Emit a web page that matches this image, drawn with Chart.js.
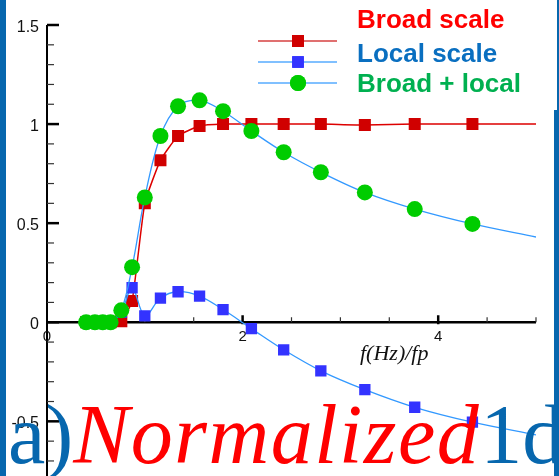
<!DOCTYPE html>
<html>
<head>
<meta charset="utf-8">
<script src="https://cdn.jsdelivr.net/npm/chart.js@4.4.1/dist/chart.umd.min.js"></script>
<style>
  html, body { margin: 0; padding: 0; background: #fff; }
  #wrap { position: relative; width: 559px; height: 476px; overflow: hidden; background: #fff; }
  #chart { position: absolute; left: 0; top: 0; }
  .legend { position: absolute; left: 357px; font: bold 26px "Liberation Sans", Arial, sans-serif; line-height: 26px; white-space: nowrap; }
  .axisTitle { position: absolute; left: 360px; top: 342px; font: italic 22px "Liberation Serif", "Times New Roman", serif; line-height: 22px; color: #111; white-space: nowrap; }
  .bigTitle { position: absolute; left: 8px; top: 393px; font: 84px "Liberation Serif", "Times New Roman", serif; line-height: 84px; white-space: nowrap; color: #0767ae; }
  .bigTitle i { color: #ff0000; letter-spacing: 1.5px; }
  .edge { position: absolute; background: #0767ae; }
</style>
</head>
<body>
<div id="wrap">
  <canvas id="chart" width="559" height="476"></canvas>
  <div class="legend" style="top:6px;color:#ff0000">Broad scale</div>
  <div class="legend" style="top:40px;color:#0a6fc0">Local scale</div>
  <div class="legend" style="top:70px;color:#00b050">Broad + local</div>
  <div class="axisTitle">f(Hz)/fp</div>
  <div class="bigTitle">a)<i>Normalized</i>1d</div>
  <div class="edge" style="left:0;top:0;width:6px;height:476px"></div>
  <div class="edge" style="left:557px;top:0;width:2px;height:110px"></div>
  <div class="edge" style="left:554px;top:110px;width:5px;height:366px"></div>
</div>
<script>
// values; the last entry is where the curves end (no marker)
const freq       = [0.40, 0.49, 0.57, 0.65, 0.76, 0.87, 1.00, 1.16, 1.34, 1.56, 1.80, 2.09, 2.42, 2.80, 3.25, 3.76, 4.35, 5.00]
const broadScale = [0, 0, 0, 0, 0.005, 0.107, 0.60, 0.817, 0.94, 0.99, 1.0, 1.0, 1.0, 1.0, 0.995, 1.0, 1.0, 1.0]
const localScale = [0, 0, 0, 0, 0.05, 0.174, 0.032, 0.122, 0.154, 0.132, 0.064, -0.032, -0.139, -0.245, -0.34, -0.429, -0.504, -0.568]
const broadLocal = [0, 0, 0, 0, 0.06, 0.278, 0.63, 0.94, 1.09, 1.12, 1.065, 0.965, 0.858, 0.757, 0.655, 0.571, 0.496, 0.43]
const markerCount = 17

const xTickLabels = [0, 2, 4]
const yTickLabels = [1.5, 1, 0.5, 0, -0.5]

const toPoints = (ys) => freq.map((f, i) => ({ x: f, y: ys[i] }))
const radii = (r) => freq.map((_, i) => i < markerCount ? r : 0)

// axes with inward ticks, crossing at the origin
const axesPlugin = {
    id: 'axes',
    beforeDatasetsDraw(chart) {
        const { ctx, scales: { x, y } } = chart
        const x0 = x.getPixelForValue(0)
        const y0 = y.getPixelForValue(0)
        ctx.save()
        ctx.strokeStyle = '#000'

        // vertical axis
        ctx.lineWidth = 2
        ctx.beginPath()
        ctx.moveTo(x0, y.getPixelForValue(1.5))
        ctx.lineTo(x0, chart.height)
        ctx.stroke()
        for (let k = -7; k <= 15; k++) {
            const py = y.getPixelForValue(k / 10)
            const major = k % 5 === 0
            ctx.lineWidth = major ? 2.5 : 1.2
            ctx.strokeStyle = major ? '#000' : '#333'
            ctx.beginPath()
            ctx.moveTo(x0, py)
            ctx.lineTo(x0 + (major ? 12 : 7), py)
            ctx.stroke()
        }

        // horizontal axis
        ctx.strokeStyle = '#000'
        ctx.lineWidth = 2.5
        ctx.beginPath()
        ctx.moveTo(x0, y0)
        ctx.lineTo(x.getPixelForValue(5), y0)
        ctx.stroke()
        for (let k = 1; k <= 10; k++) {
            const px = x.getPixelForValue(k / 2)
            const major = k % 4 === 0
            ctx.lineWidth = major ? 2.5 : 1.2
            ctx.strokeStyle = major ? '#000' : '#333'
            ctx.beginPath()
            ctx.moveTo(px, y0 + (major ? 2 : 0))
            ctx.lineTo(px, y0 - (major ? 7 : 5))
            ctx.stroke()
        }

        // tick labels
        ctx.fillStyle = '#111'
        ctx.font = '16px "Liberation Sans", Arial, sans-serif'
        ctx.textAlign = 'right'
        ctx.textBaseline = 'alphabetic'
        yTickLabels.forEach(v => ctx.fillText(String(v), x0 - 8, y.getPixelForValue(v) + 6.5))
        ctx.font = '15px "Liberation Sans", Arial, sans-serif'
        ctx.textAlign = 'center'
        xTickLabels.forEach(v => ctx.fillText(String(v), x.getPixelForValue(v), y0 + 18.5))
        ctx.restore()
    }
}

// legend samples: line with marker in the middle
const legendPlugin = {
    id: 'legendSamples',
    afterDraw(chart) {
        const ctx = chart.ctx
        const rows = [
            { y: 41, line: '#e07070', style: 'rect', radius: 8.5, fill: '#d00000' },
            { y: 62, line: '#80c0ff', style: 'rect', radius: 8.2, fill: '#3333ff' },
            { y: 83, line: '#80c0ff', style: 'circle', radius: 8, fill: '#00cc00' },
        ]
        ctx.save()
        rows.forEach(r => {
            ctx.strokeStyle = r.line
            ctx.lineWidth = 2
            ctx.beginPath()
            ctx.moveTo(258, r.y)
            ctx.lineTo(337, r.y)
            ctx.stroke()
            ctx.fillStyle = r.fill
            Chart.helpers.drawPoint(ctx, { pointStyle: r.style, radius: r.radius, borderWidth: 0, rotation: 0 }, 298, r.y)
            ctx.fill()
        })
        ctx.restore()
    }
}

new Chart(document.getElementById('chart'), {
    type: 'line',
    data: {
        datasets: [
            {
                label: 'Broad scale',
                data: toPoints(broadScale),
                borderColor: '#dd0000',
                borderWidth: 1.5,
                tension: 0.15,
                pointStyle: 'rect',
                pointRadius: radii(8.5),
                pointBackgroundColor: '#d00000',
                pointBorderWidth: 0,
                order: 3,
            },
            {
                label: 'Local scale',
                data: toPoints(localScale),
                borderColor: '#3399ff',
                borderWidth: 1.3,
                tension: 0.35,
                pointStyle: 'rect',
                pointRadius: radii(8),
                pointBackgroundColor: '#3333ff',
                pointBorderWidth: 0,
                order: 2,
            },
            {
                label: 'Broad + local',
                data: toPoints(broadLocal),
                borderColor: '#3399ff',
                borderWidth: 1.3,
                tension: 0.35,
                pointStyle: 'circle',
                pointRadius: radii(8),
                pointBackgroundColor: '#00cc00',
                pointBorderWidth: 0,
                order: 1,
            },
        ]
    },
    options: {
        responsive: false,
        animation: false,
        layout: { padding: { left: 47, right: 23, top: 25, bottom: 0 } },
        plugins: { legend: { display: false }, tooltip: { enabled: false } },
        scales: {
            x: { type: 'linear', min: 0, max: 5, display: false },
            y: { type: 'linear', min: -0.733, max: 1.5, display: false },
        }
    },
    plugins: [axesPlugin, legendPlugin]
})
</script>
</body>
</html>
